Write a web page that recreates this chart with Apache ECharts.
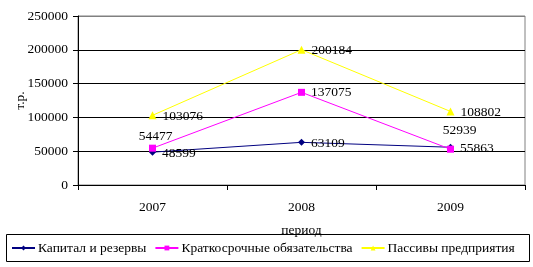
<!DOCTYPE html>
<html><head><meta charset="utf-8">
<script src="https://cdn.jsdelivr.net/npm/echarts@6/dist/echarts.min.js"></script>
<style>html,body{margin:0;padding:0;background:#fff}#c{width:533px;height:267px}</style>
</head><body><div id="c"></div>
<script>
const categories = ['2007', '2008', '2009'];
const capital = [48599, 63109, 55863];
const shortTerm = [54477, 137075, 52939];
const liabilities = [103076, 200184, 108802];
const seriesNames = ['Капитал и резервы', 'Краткосрочные обязательства', 'Пассивы предприятия'];
const yTicks = [0, 50000, 100000, 150000, 200000, 250000];

const F = 'Liberation Serif';
const FS = 13.5;
const chart = echarts.init(document.getElementById('c'), null, {renderer: 'canvas'});
const lbl = {show: true, color: '#000', fontFamily: F, fontSize: FS};
chart.setOption({
  animation: false,
  textStyle: {fontFamily: F},
  grid: {left: 78, right: 8, top: 16, bottom: 82, show: true, borderColor: '#808080', borderWidth: 1,
         containLabel: false, outerBoundsMode: 'none'},
  xAxis: {
    type: 'category', data: categories, boundaryGap: true,
    name: 'период', nameLocation: 'middle', nameGap: 38, nameMoveOverlap: false,
    nameTextStyle: {color: '#000', fontFamily: F, fontSize: FS},
    axisLine: {lineStyle: {color: '#000'}},
    axisTick: {show: true, length: 5, lineStyle: {color: '#000'}},
    axisLabel: {color: '#000', fontFamily: F, fontSize: FS, margin: 15}
  },
  yAxis: {
    type: 'value', min: yTicks[0], max: yTicks[yTicks.length - 1], interval: 50000,
    name: 'т.р.', nameLocation: 'middle', nameGap: 51, nameRotate: 90, nameMoveOverlap: false,
    nameTextStyle: {color: '#000', fontFamily: F, fontSize: FS},
    axisLine: {show: true, lineStyle: {color: '#000'}},
    axisTick: {show: true, length: 5, lineStyle: {color: '#000'}},
    axisLabel: {color: '#000', fontFamily: F, fontSize: FS, margin: 10, formatter: v => String(v)},
    splitLine: {show: true, lineStyle: {color: ['#000', '#000', '#000', '#000', '#000', '#808080'], width: 1}}
  },
  legend: {
    left: 11, top: 241, itemGap: 8, itemWidth: 23, itemHeight: 6, padding: 0,
    textStyle: {color: '#000', fontFamily: F, fontSize: FS, padding: [0, 0, 0, -2]},
    data: seriesNames
  },
  graphic: [{type: 'rect', shape: {x: 6.5, y: 234.5, width: 523, height: 27}, style: {fill: 'none', stroke: '#000', lineWidth: 1}}],
  series: [
    {name: seriesNames[0], type: 'line', data: capital, color: '#000080', symbol: 'diamond', symbolSize: 7,
     lineStyle: {width: 1, color: '#000080'}, itemStyle: {color: '#000080'},
     label: Object.assign({}, lbl, {position: 'right', distance: 6, offset: [0, 1]}), z: 3},
    {name: seriesNames[1], type: 'line', data: shortTerm.map((v, i) => ({value: v,
       label: i === 0 ? {position: 'top', distance: 1, offset: [3, 0]} : i === 2 ? {position: 'top', distance: 8, offset: [9, 0]} : {position: 'right', distance: 6}})),
     color: '#FF00FF', symbol: 'rect', symbolSize: 7,
     lineStyle: {width: 1, color: '#FF00FF'}, itemStyle: {color: '#FF00FF'},
     label: Object.assign({}, lbl), z: 4},
    {name: seriesNames[2], type: 'line', data: liabilities, color: '#FFFF00', symbol: 'triangle', symbolSize: 8,
     lineStyle: {width: 1, color: '#FFFF00'}, itemStyle: {color: '#FFFF00'},
     label: Object.assign({}, lbl, {position: 'right', distance: 6, offset: [0, 1]}), z: 2}
  ]
});
</script></body></html>
